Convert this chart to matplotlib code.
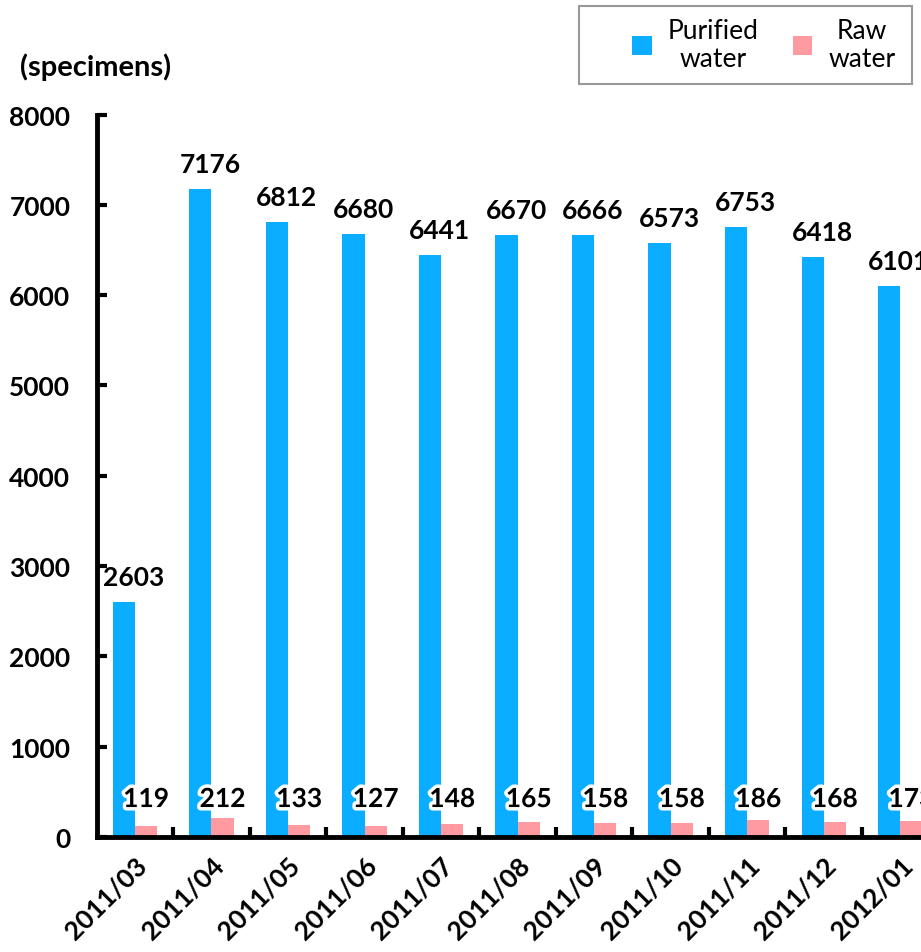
import matplotlib.pyplot as plt
import matplotlib.patheffects as pe
from matplotlib.patches import Rectangle
import numpy as np

miesiace = ["2011/03", "2011/04", "2011/05", "2011/06", "2011/07", "2011/08",
            "2011/09", "2011/10", "2011/11", "2011/12", "2012/01"]
woda_oczyszczona = [2603, 7176, 6812, 6680, 6441, 6670, 6666, 6573, 6753, 6418, 6101]
woda_surowa = [119, 212, 133, 127, 148, 165, 158, 158, 186, 168, 173]

plt.rcParams["font.family"] = ["Lato", "DejaVu Sans"]

fig = plt.figure(figsize=(9.21, 9.53), dpi=100)
ax = fig.add_axes([0.105, 0.1207, 0.914, 0.758])

x = np.arange(len(miesiace))
szer = 0.29
ax.bar(x - szer / 2, woda_oczyszczona, szer, color="#0AADFF", label="Purified\nwater")
ax.bar(x + szer / 2, woda_surowa, szer, color="#FF9BA0", label="Raw\nwater")

poswiata = [pe.withStroke(linewidth=5, foreground="white")]
for i in range(len(miesiace)):
    ax.annotate(str(woda_oczyszczona[i]), (x[i] - 0.02, woda_oczyszczona[i]),
                xytext=(0, 18), textcoords="offset points", ha="center", va="center",
                fontsize=19, fontweight="bold")
    ax.text(x[i] + szer / 2, 420, str(woda_surowa[i]), ha="center", va="center",
            fontsize=19, fontweight="bold", path_effects=poswiata)

ax.set_xlim(-0.5, len(miesiace) - 0.5)
ax.set_ylim(0, 8000)
ax.set_yticks(range(0, 8001, 1000))
ax.set_xticks(x)
ax.set_xticklabels(miesiace, rotation=45, ha="right", rotation_mode="anchor",
                   fontsize=19, fontweight="bold")
ax.set_xticks(np.arange(0.5, len(miesiace) - 0.5, 1), minor=True)
ax.tick_params(axis="x", which="major", length=0, pad=11)
ax.tick_params(axis="x", which="minor", direction="in", length=7, width=3)
ax.tick_params(axis="y", direction="in", length=7, width=3, labelsize=19, pad=19)
for lab in ax.get_yticklabels():
    lab.set_fontweight("bold")

ax.spines["top"].set_visible(False)
ax.spines["right"].set_visible(False)
ax.spines["left"].set_linewidth(3.5)
ax.spines["bottom"].set_linewidth(3.5)

fig.text(0.022, 0.929, "(specimens)", fontsize=21, fontweight="bold", va="center")

# ramka legendy rysowana osobno (duzy margines z lewej strony)
fig.patches.append(Rectangle((0.6287, 0.9108), 0.3616, 0.0818, transform=fig.transFigure,
                             facecolor="white", edgecolor="#999999", linewidth=1.5))
leg = fig.legend(loc="center", bbox_to_anchor=(0.829, 0.952), ncol=2, fontsize=19,
                 frameon=False, handlelength=0.75, handleheight=0.75, handletextpad=0.6,
                 columnspacing=1.3, borderpad=0, borderaxespad=0, labelspacing=0)
for t in leg.get_texts():
    t.set_multialignment("center")
    t.set_linespacing(1.15)

plt.savefig("out.png", dpi=100)
